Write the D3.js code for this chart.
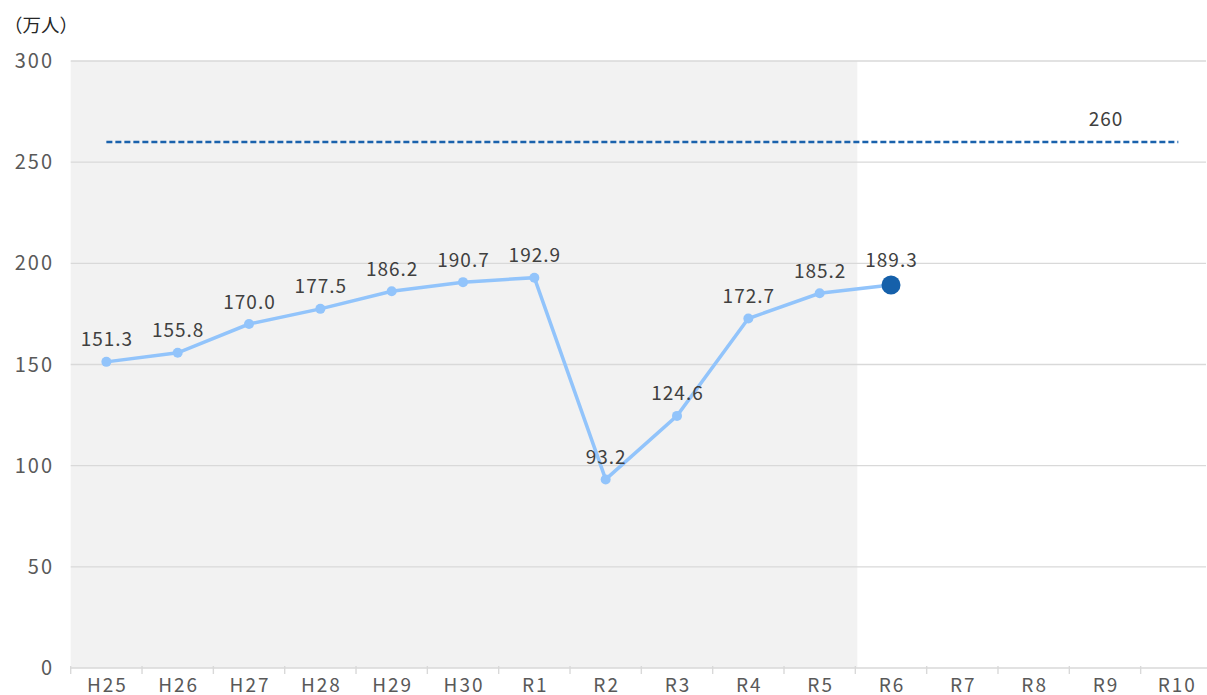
<!DOCTYPE html>
<html><head><meta charset="utf-8">
<script src="https://cdn.jsdelivr.net/npm/d3@7"></script>
<style>body{margin:0;background:#fff}svg{display:block}text{font-family:"Noto Sans CJK JP","Noto Sans",sans-serif}</style>
</head><body><svg id="c" width="1207" height="695"></svg>
<script>
const categories = ["H25","H26","H27","H28","H29","H30","R1","R2","R3","R4","R5","R6","R7","R8","R9","R10"];
const values = [151.3,155.8,170.0,177.5,186.2,190.7,192.9,93.2,124.6,172.7,185.2,189.3];
const target = 260;
const yTicks = [0,50,100,150,200,250,300];
const shadedUntil = "R5";

(function(){
const svg = d3.select("#c");
const FONT = '"Noto Sans","Noto Sans CJK JP",sans-serif';
const mLeft = 70.7, band = 71.33, mTop = 61, mBottom = 668, W = 1207;
const x = d3.scaleBand().domain(categories).range([mLeft, mLeft + band*categories.length]).padding(0);
const y = d3.scaleLinear().domain([0,300]).range([mBottom, mTop]);
const cx = d => x(d) + x.bandwidth()/2;

svg.append("rect").attr("x", mLeft).attr("y", mTop)
  .attr("width", x(shadedUntil) + x.bandwidth() - mLeft + 2).attr("height", mBottom - mTop).attr("fill", "#f2f2f2");

svg.append("g").selectAll("line").data(yTicks.filter(t=>t>0)).join("line")
  .attr("x1", mLeft).attr("x2", W - 1).attr("y1", d=>y(d)).attr("y2", d=>y(d))
  .attr("stroke", "#d9d9d9").attr("stroke-width", 1.4);

svg.append("g").selectAll("text").data(yTicks).join("text")
  .attr("x", 54).attr("y", d=>y(d)+7).attr("text-anchor","end")
  .attr("font-family", FONT).attr("font-size", 20).attr("letter-spacing", 2)
  .attr("fill", "#595959").text(d=>d);

const xAxis = d3.axisBottom(x).tickSize(0).tickPadding(0);
const gx = svg.append("g").attr("transform", `translate(0,${mBottom})`).call(xAxis);
gx.select(".domain").remove();
gx.selectAll("text").attr("font-size", 19).attr("fill", "#595959").attr("font-family", FONT)
  .attr("letter-spacing", 2).attr("dx", 1).attr("dy", null).attr("y", 24);
svg.append("line").attr("x1", mLeft).attr("x2", W).attr("y1", mBottom).attr("y2", mBottom).attr("stroke", "#d9d9d9").attr("stroke-width", 1.4);
svg.append("g").selectAll("line").data(categories).join("line")
  .attr("x1", d=>x(d)).attr("x2", d=>x(d)).attr("y1", mBottom - 2).attr("y2", mBottom+6)
  .attr("stroke", "#d9d9d9").attr("stroke-width", 1.4);

svg.append("line").attr("x1", cx(categories[0])).attr("x2", cx(categories[categories.length-1]) + 2)
  .attr("y1", y(target)).attr("y2", y(target))
  .attr("stroke", "#1a62ac").attr("stroke-width", 2.5).attr("stroke-dasharray", "6,3");
svg.append("text").attr("x", cx("R9") + 1).attr("y", y(target) - 16).attr("text-anchor","middle")
  .attr("font-family", FONT).attr("font-size", 19).attr("letter-spacing", 1)
  .attr("fill", "#404040").text(target);

const pts = values.map((v,i)=>({c: categories[i], v}));
svg.append("path").datum(pts).attr("fill","none").attr("stroke","#92c4fb").attr("stroke-width",3.5)
  .attr("d", d3.line().x(d=>cx(d.c)).y(d=>y(d.v)));
svg.append("g").selectAll("circle").data(pts.slice(0,-1)).join("circle")
  .attr("cx", d=>cx(d.c)).attr("cy", d=>y(d.v)).attr("r", 5).attr("fill","#92c4fb");
const last = pts[pts.length-1];
svg.append("circle").attr("cx", cx(last.c)).attr("cy", y(last.v)).attr("r", 9.5).attr("fill","#1560aa");

svg.append("g").selectAll("text").data(pts).join("text")
  .attr("x", d=>cx(d.c) + 0.5).attr("y", (d,i)=>y(d.v) - (i===pts.length-1 ? 18 : 15.5))
  .attr("text-anchor","middle").attr("font-family", FONT).attr("font-size",19).attr("letter-spacing", 1)
  .attr("fill","#404040")
  .text(d=>d.v.toFixed(1));

svg.append("text").attr("x", 4).attr("y", 32).attr("font-size", 18.5)
  .attr("font-family", '"Noto Sans CJK JP",sans-serif').attr("fill","#262626").text("（万人）");
})();
</script></body></html>
